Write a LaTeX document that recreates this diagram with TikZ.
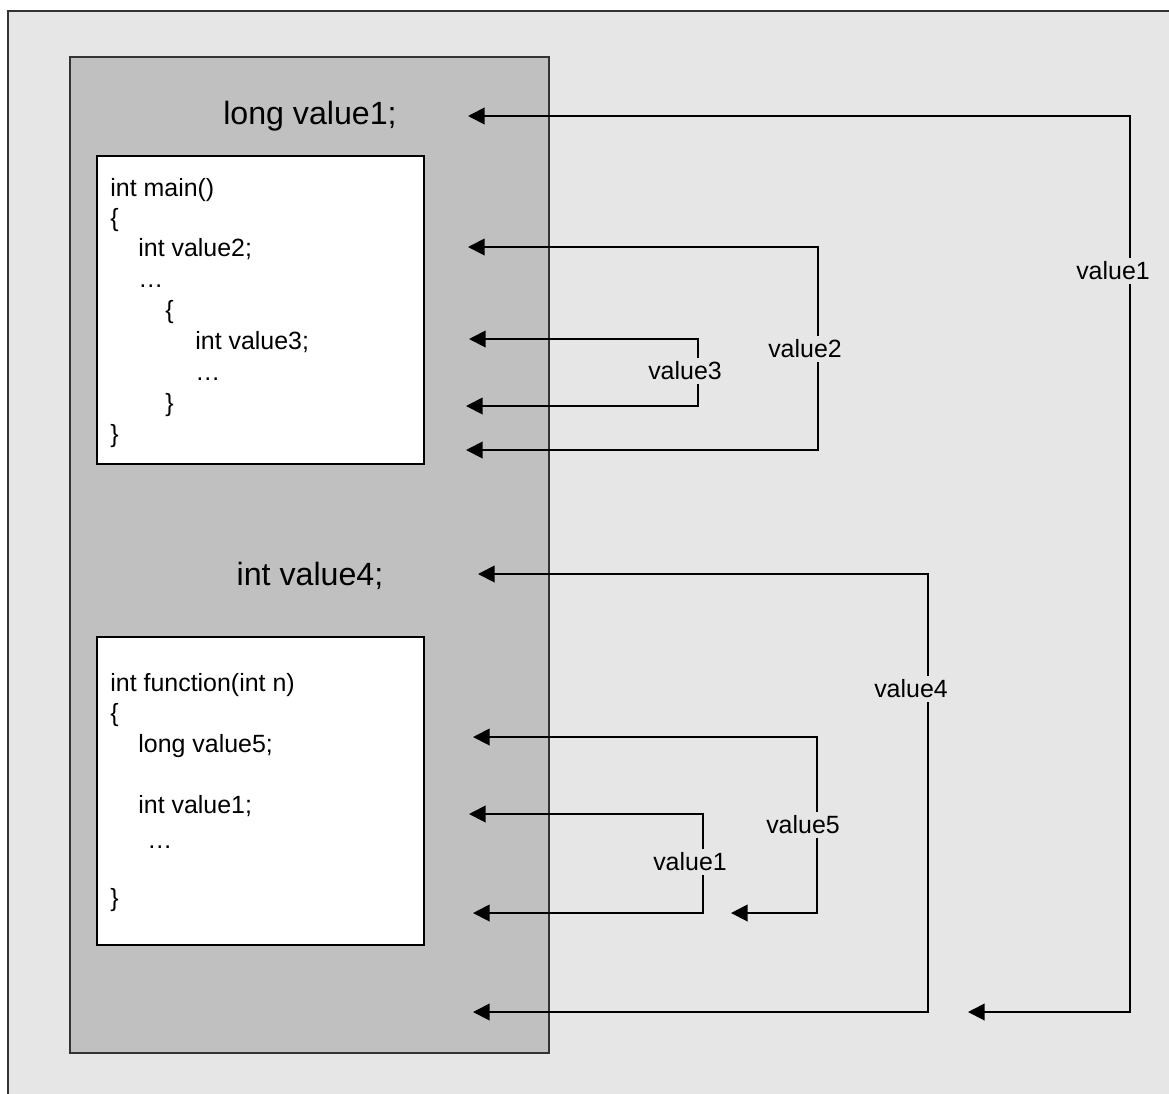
\documentclass[tikz,border=0pt]{standalone}
\usepackage{fontspec}
\setmainfont{Liberation Sans}
\usetikzlibrary{arrows.meta}

\definecolor{pagegray}{HTML}{E6E6E6}
\definecolor{blockgray}{HTML}{C0C0C0}
\definecolor{edgegray}{HTML}{333333}

\tikzset{
  codeline/.style={anchor=base west, inner sep=0pt, font=\fontsize{14.2}{17}\selectfont},
  declnode/.style={anchor=base, inner sep=0pt, font=\fontsize{18.3}{22}\selectfont},
  scopelink/.style={{Triangle[length=9.5pt,width=9.5pt]}-{Triangle[length=9.5pt,width=9.5pt]}, line width=1.1pt},
  scopelabel/.style={fill=pagegray, inner sep=2pt, font=\fontsize{14.2}{17}\selectfont}
}

\begin{document}
\begin{tikzpicture}[x=0.02cm, y=-0.02cm]
  \useasboundingbox (0,0) rectangle (1169,1093);
  \clip (0,0) rectangle (1169,1093);
  \fill[white] (0,0) rectangle (1169,1093);
  \draw[fill=pagegray, draw=edgegray, line width=1.2pt] (8,11) rectangle (1190,1110);
  \draw[fill=blockgray, draw=edgegray, line width=1.2pt] (70,57) rectangle (549,1053);
  \draw[fill=white, draw=black, line width=1.1pt] (97,156) rectangle (424,464);
  \draw[fill=white, draw=black, line width=1.1pt] (97,637) rectangle (424,945);

  \node[declnode] (long1) at (310,124) {long value1;};
  \node[declnode] (int4) at (310,585) {int value4;};

  \node[codeline] (m1) at (110,196) {int main()};
  \node[codeline] (m2) at (110,226) {\{};
  \node[codeline] (m3) at (138,256) {int value2;};
  \node[codeline] (m4) at (138,287) {\dots};
  \node[codeline] (m5) at (165,318) {\{};
  \node[codeline] (m6) at (195,349) {int value3;};
  \node[codeline] (m7) at (195,380) {\dots};
  \node[codeline] (m8) at (165,411) {\}};
  \node[codeline] (m9) at (110,442) {\}};

  \node[codeline] (f1) at (110,691) {int function(int n)};
  \node[codeline] (f2) at (110,721) {\{};
  \node[codeline] (f3) at (138,752) {long value5;};
  \node[codeline] (f4) at (138,813) {int value1;};
  \node[codeline] (f5) at (147,848) {\dots};
  \node[codeline] (f6) at (110,906) {\}};

  \coordinate (v1a) at (468,116);
  \coordinate (v1c) at (1130,1012);
  \coordinate (v1b) at (968,1012);
  \coordinate (v2a) at (468,247);
  \coordinate (v2c) at (818,450);
  \coordinate (v2b) at (466,450);
  \coordinate (v3a) at (469,339);
  \coordinate (v3c) at (698,406);
  \coordinate (v3b) at (466,406);
  \coordinate (v4a) at (478,574);
  \coordinate (v4c) at (928,1012);
  \coordinate (v4b) at (473,1012);
  \coordinate (v5a) at (473,737);
  \coordinate (v5c) at (817,913);
  \coordinate (v5b) at (731,913);
  \coordinate (w1a) at (469,814);
  \coordinate (w1c) at (703,913);
  \coordinate (w1b) at (473,913);

  \draw[scopelink] (v1a) -| (v1c) -- (v1b);
  \draw[scopelink] (v2a) -| (v2c) -- (v2b);
  \draw[scopelink] (v3a) -| (v3c) -- (v3b);
  \draw[scopelink] (v4a) -| (v4c) -- (v4b);
  \draw[scopelink] (v5a) -| (v5c) -- (v5b);
  \draw[scopelink] (w1a) -| (w1c) -- (w1b);

  \node[scopelabel] (lv1) at (1113,271) {value1};
  \node[scopelabel] (lv2) at (805,349) {value2};
  \node[scopelabel] (lv3) at (685,371) {value3};
  \node[scopelabel] (lv4) at (911,689) {value4};
  \node[scopelabel] (lv5) at (803,825) {value5};
  \node[scopelabel] (lw1) at (690,862) {value1};
\end{tikzpicture}
\end{document}
